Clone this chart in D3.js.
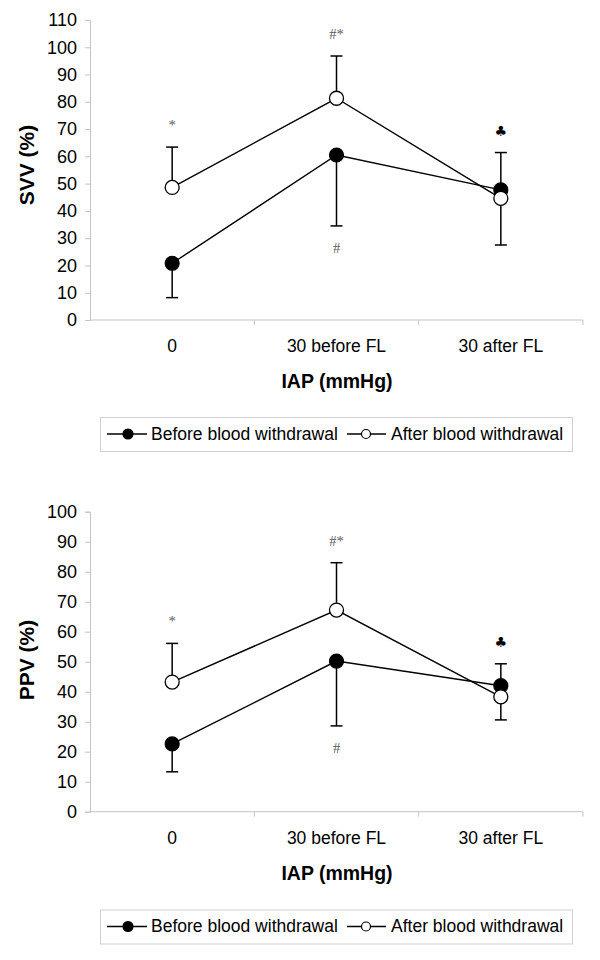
<!DOCTYPE html>
<html>
<head>
<meta charset="utf-8">
<script src="https://cdn.jsdelivr.net/npm/d3@7"></script>
<style>
  html, body { margin: 0; padding: 0; background: #fff; }
  svg { display: block; font-family: "Liberation Sans", Arial, sans-serif; }
</style>
</head>
<body>
<svg id="chart" width="600" height="960"></svg>
<script>
// ---------- DATA ----------
const categories = ["0", "30 before FL", "30 after FL"];

const svvBefore   = [20.8, 60.5, 47.7];
const svvBeforeSD = [12.6, 26.0, 20.2];   // drawn downward
const svvAfter    = [48.6, 81.3, 44.6];
const svvAfterSD  = [14.8, 15.5, 16.8];   // drawn upward
const svvTicks    = [0, 10, 20, 30, 40, 50, 60, 70, 80, 90, 100, 110];

const ppvBefore   = [22.6, 50.2, 42.0];
const ppvBeforeSD = [9.3, 21.6, 11.4];
const ppvAfter    = [43.2, 67.2, 38.3];
const ppvAfterSD  = [12.9, 15.8, 11.0];
const ppvTicks    = [0, 10, 20, 30, 40, 50, 60, 70, 80, 90, 100];

const svvNotes = [
  { cat: "0", label: "*", side: "above" },
  { cat: "30 before FL", label: "#*", side: "above" },
  { cat: "30 before FL", label: "#", side: "below" },
  { cat: "30 after FL", label: "\u2663", side: "above" }
];
const ppvNotes = [
  { cat: "0", label: "*", side: "above" },
  { cat: "30 before FL", label: "#*", side: "above" },
  { cat: "30 before FL", label: "#", side: "below" },
  { cat: "30 after FL", label: "\u2663", side: "above" }
];

const seriesNames = ["Before blood withdrawal", "After blood withdrawal"];
const xTitle = "IAP (mmHg)";

// ---------- DRAW ----------
const svg = d3.select("#chart");
const axisColor = "#c4c4c4";

function panel(opt) {
  const g = svg.append("g");
  const x = d3.scaleBand().domain(categories).range([90, 583]);
  const y = d3.scaleLinear().domain([0, d3.max(opt.ticks)]).range([opt.bottom, opt.top]);
  const cx = c => x(c) + x.bandwidth() / 2;

  // Y axis
  const ya = g.append("g").attr("transform", "translate(90,0)")
    .call(d3.axisLeft(y).tickValues(opt.ticks).tickSize(5).tickPadding(8).tickFormat(d3.format("d")));
  ya.select(".domain").attr("stroke", axisColor);
  ya.selectAll(".tick line").attr("stroke", axisColor);
  ya.selectAll(".tick text").attr("fill", "#000").style("font-size", "18px")
    .style("font-family", "'Liberation Sans', Arial, sans-serif");

  // X axis: line + ticks at band boundaries
  g.append("line").attr("x1", 90).attr("x2", 583).attr("y1", y(0)).attr("y2", y(0))
    .attr("stroke", axisColor);
  const bounds = categories.map(c => x(c)).concat([x(categories[categories.length - 1]) + x.bandwidth()]);
  g.selectAll(".xt").data(bounds.slice(1)).join("line")
    .attr("x1", d => d).attr("x2", d => d).attr("y1", y(0)).attr("y2", y(0) + 5)
    .attr("stroke", axisColor);
  g.selectAll(".xl").data(categories).join("text")
    .attr("x", d => cx(d)).attr("y", y(0) + 32)
    .attr("text-anchor", "middle").style("font-size", "17.5px").text(d => d);

  // Titles
  g.append("text").attr("x", 337).attr("y", y(0) + 68)
    .attr("text-anchor", "middle").style("font-size", "19.5px").style("font-weight", "bold").text(xTitle);
  g.append("text")
    .attr("transform", `translate(34,${opt.titleY}) rotate(-90)`)
    .attr("text-anchor", "middle").style("font-size", "21px").style("font-weight", "bold").text(opt.yTitle);

  const before = categories.map((c, i) => ({ c, v: opt.before[i], sd: opt.beforeSD[i] }));
  const after  = categories.map((c, i) => ({ c, v: opt.after[i], sd: opt.afterSD[i] }));

  // Error bars: before downward, after upward
  function errBars(data, dir) {
    const eg = g.append("g").attr("stroke", "#000").attr("stroke-width", 1.5);
    data.forEach(d => {
      const end = y(d.v + dir * d.sd);
      eg.append("line").attr("x1", cx(d.c)).attr("x2", cx(d.c)).attr("y1", y(d.v)).attr("y2", end);
      eg.append("line").attr("x1", cx(d.c) - 6).attr("x2", cx(d.c) + 6).attr("y1", end).attr("y2", end);
    });
  }
  errBars(before, -1);
  errBars(after, 1);

  const line = d3.line().x(d => cx(d.c)).y(d => y(d.v));
  // before series
  g.append("path").datum(before).attr("d", line).attr("fill", "none").attr("stroke", "#000").attr("stroke-width", 1.4);
  g.selectAll(".mb").data(before).join("circle")
    .attr("cx", d => cx(d.c)).attr("cy", d => y(d.v)).attr("r", 7)
    .attr("fill", "#000").attr("stroke", "#000").attr("stroke-width", 1.2);
  // after series
  g.append("path").datum(after).attr("d", line).attr("fill", "none").attr("stroke", "#000").attr("stroke-width", 1.4);
  g.selectAll(".ma").data(after).join("circle")
    .attr("cx", d => cx(d.c)).attr("cy", d => y(d.v)).attr("r", 7)
    .attr("fill", "#fff").attr("stroke", "#000").attr("stroke-width", 1.3);

  // Annotations
  opt.notes.forEach(n => {
    const i = categories.indexOf(n.cat);
    const top = Math.max(opt.after[i] + opt.afterSD[i], opt.before[i]);
    const low = Math.min(opt.before[i] - opt.beforeSD[i], opt.after[i]);
    const isClub = n.label === "\u2663";
    const yy = n.side === "above" ? y(top) - 17 : y(low) + 27;
    g.append("text").attr("x", cx(n.cat)).attr("y", yy)
      .attr("text-anchor", "middle")
      .style("font-family", isClub ? "'DejaVu Sans', sans-serif" : "'Liberation Serif', 'Times New Roman', serif")
      .style("font-size", isClub ? "14px" : "14.5px")
      .attr("fill", isClub ? "#000" : "#5a5a5a")
      .text(n.label);
  });

  // Legend
  const ly = opt.legendY;
  g.append("rect").attr("x", 100.5).attr("y", ly - 16.5).attr("width", 472).attr("height", 34)
    .attr("fill", "#fff").attr("stroke", "#cfcfcf");
  const items = [
    { name: seriesNames[0], x1: 107, x2: 147, mx: 128, r: 5, fill: "#000", tx: 151 },
    { name: seriesNames[1], x1: 347, x2: 386, mx: 366, r: 4.5, fill: "#fff", tx: 391 }
  ];
  items.forEach(it => {
    g.append("line").attr("x1", it.x1).attr("x2", it.x2).attr("y1", ly).attr("y2", ly)
      .attr("stroke", "#000").attr("stroke-width", 1.3);
    g.append("circle").attr("cx", it.mx).attr("cy", ly).attr("r", it.r)
      .attr("fill", it.fill).attr("stroke", "#000").attr("stroke-width", 1.2);
    g.append("text").attr("x", it.tx).attr("y", ly + 5.5).style("font-size", "17.5px").text(it.name);
  });
}

panel({
  top: 20, bottom: 320, ticks: svvTicks, yTitle: "SVV (%)", titleY: 165,
  before: svvBefore, beforeSD: svvBeforeSD, after: svvAfter, afterSD: svvAfterSD,
  notes: svvNotes, legendY: 434
});
panel({
  top: 511.7, bottom: 811.7, ticks: ppvTicks, yTitle: "PPV (%)", titleY: 660,
  before: ppvBefore, beforeSD: ppvBeforeSD, after: ppvAfter, afterSD: ppvAfterSD,
  notes: ppvNotes, legendY: 926.5
});
</script>
</body>
</html>
